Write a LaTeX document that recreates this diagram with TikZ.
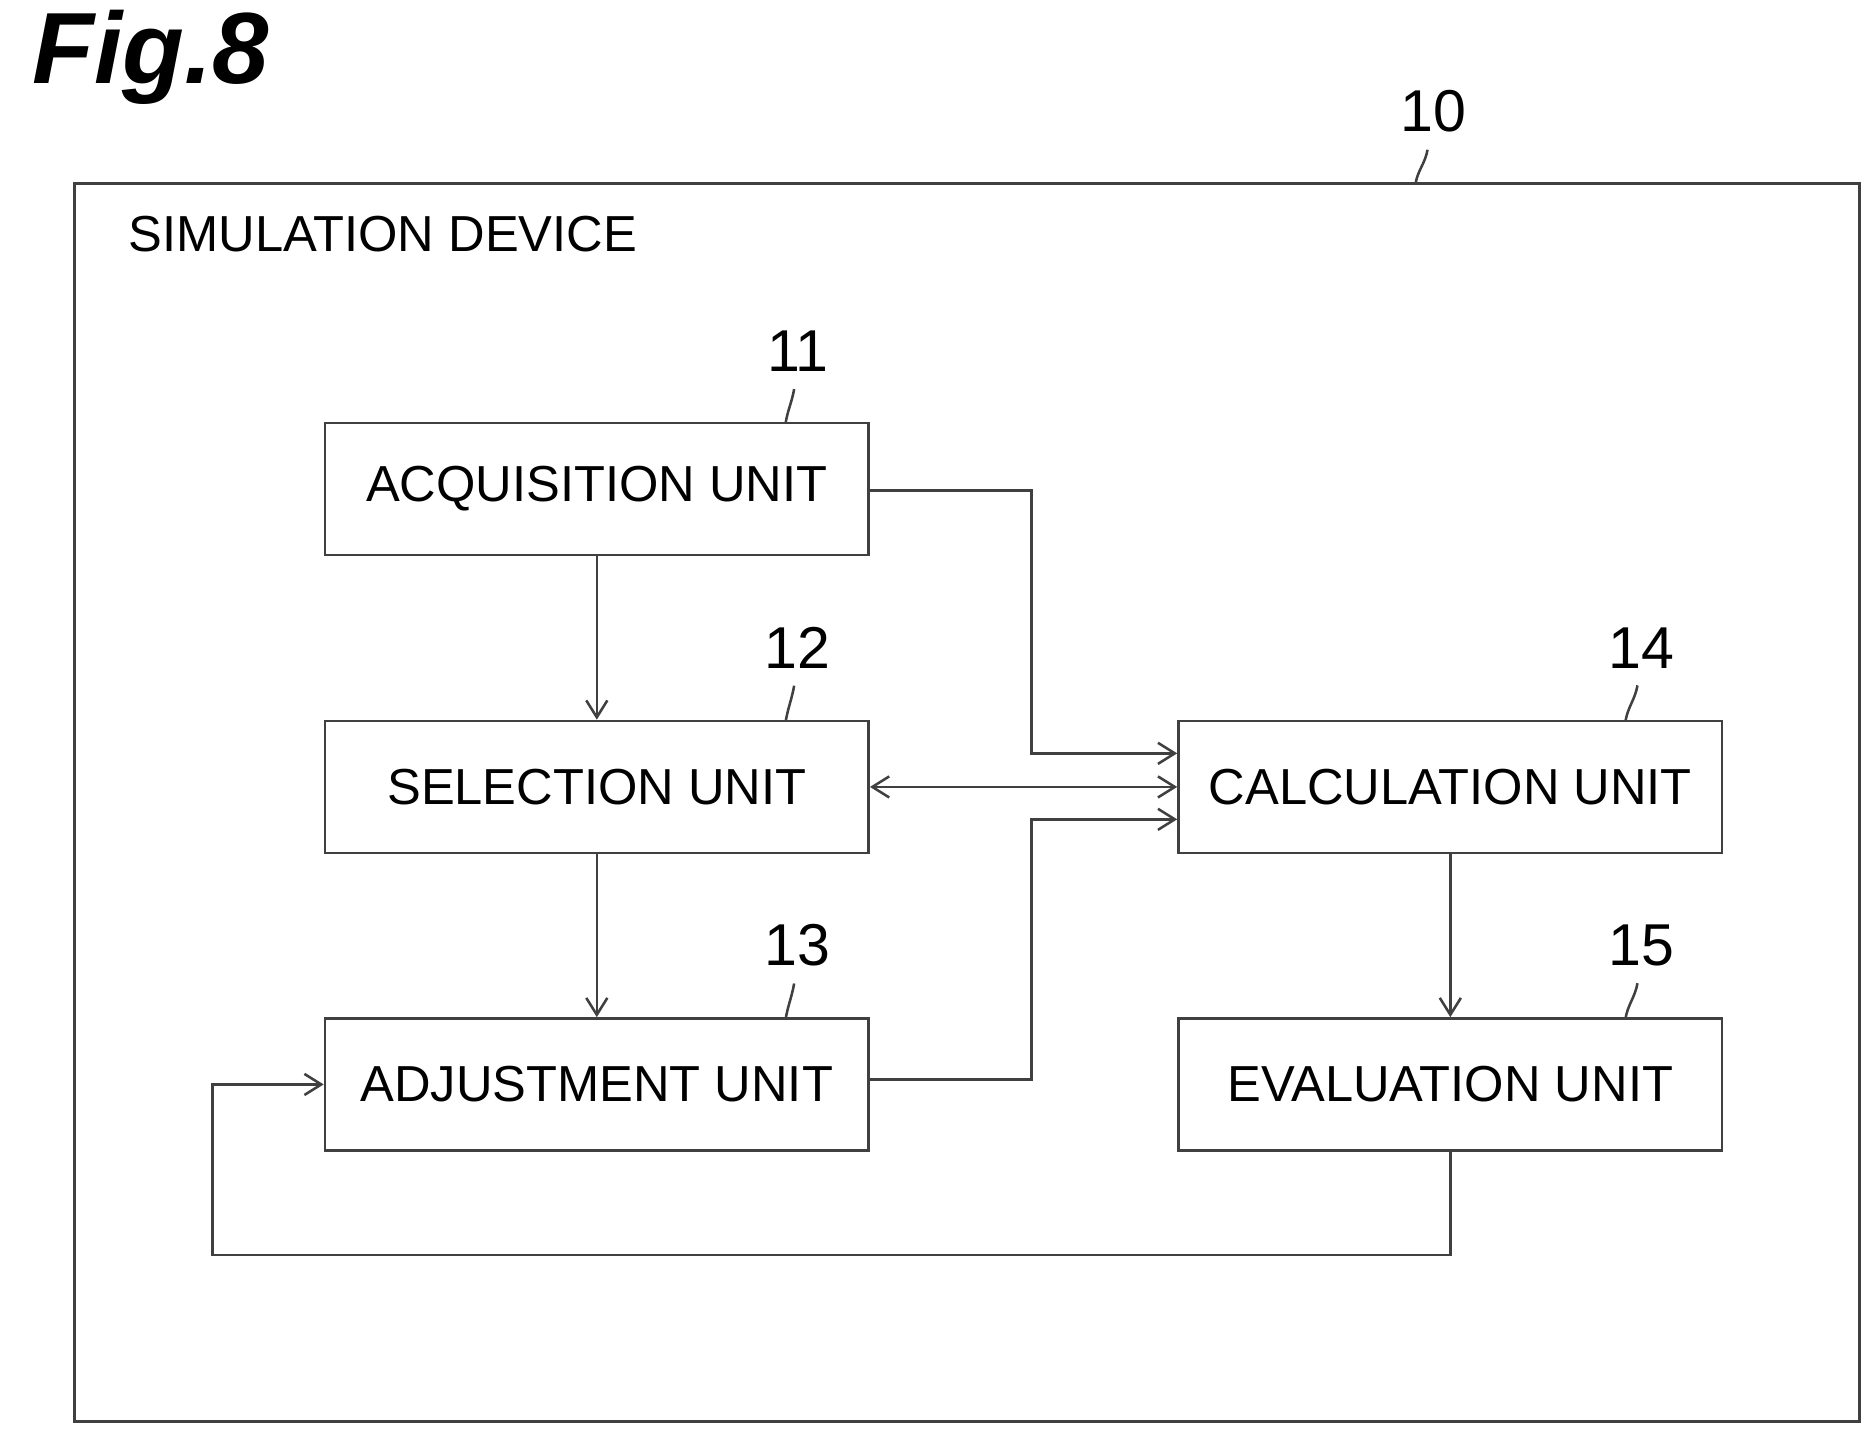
\documentclass[tikz,border=0pt]{standalone}
\usepackage{fontspec}
\setmainfont{Liberation Sans}
\usetikzlibrary{arrows.meta}
\begin{document}
\begin{tikzpicture}[x=0.01cm,y=-0.01cm,
  ln/.style={draw=black!75,line width=0.6pt},
  unit/.style={ln,rectangle,minimum width=4.53cm,minimum height=1.1cm,inner sep=0pt,font=\fontsize{12}{14}\selectfont},
  ref/.style={font=\fontsize{14}{16}\selectfont},
  arr/.style={ln,-{Straight Barb[length=4pt,width=5pt]}}]
\useasboundingbox (0,0) rectangle (1563,1198);
\node[font=\bfseries\itshape\fontsize{24}{28}\selectfont,anchor=west] (fig) at (15,48) {Fig.8};
\draw[ln] (62,153) rectangle (1550,1185);
\node[anchor=west,font=\fontsize{12}{14}\selectfont] (sd) at (95,195) {SIMULATION DEVICE};
\node[ref] (r10) at (1195,93) {10};
\coordinate (t10) at (1180,153);
\draw[ln] (r10.south) ++(-5,2) to[out=-100,in=80] (t10);
\node[unit] (acq) at (497.5,407.5) {ACQUISITION UNIT};
\node[unit] (sel) at (497.5,656) {SELECTION UNIT};
\node[unit] (adj) at (497.5,904) {ADJUSTMENT UNIT};
\node[unit] (cal) at (1209,656) {CALCULATION UNIT};
\node[unit] (eva) at (1209,904) {EVALUATION UNIT};
\foreach \n/\t/\x/\y in {r11/11/665/293,r12/12/665/540,r13/13/665/788,r14/14/1368/540,r15/15/1368/788}
  \node[ref] (\n) at (\x,\y) {\t};
\draw[ln] (r11.south) ++(-3,2) to[out=-100,in=80] (655,352);
\draw[ln] (r12.south) ++(-3,2) to[out=-100,in=80] (655,601);
\draw[ln] (r13.south) ++(-3,2) to[out=-100,in=80] (655,849);
\draw[ln] (r14.south) ++(-3,2) to[out=-100,in=80] (1355,601);
\draw[ln] (r15.south) ++(-3,2) to[out=-100,in=80] (1355,849);
\draw[arr] (acq.south) -- (sel.north);
\draw[arr] (sel.south) -- (adj.north);
\draw[arr] (cal.south) -- (eva.north);
\draw[arr] (acq.east |- 0,409) -- (860,409) -- (860,628) -- (cal.west |- 0,628);
\draw[ln,{Straight Barb[length=4pt,width=5pt]}-{Straight Barb[length=4pt,width=5pt]}] (sel.east) -- (cal.west);
\draw[arr] (adj.east |- 0,900) -- (860,900) -- (860,683) -- (cal.west |- 0,683);
\draw[arr] (eva.south) -- (1209,1046) -- (177,1046) -- (177,904) -- (adj.west);
\end{tikzpicture}
\end{document}
